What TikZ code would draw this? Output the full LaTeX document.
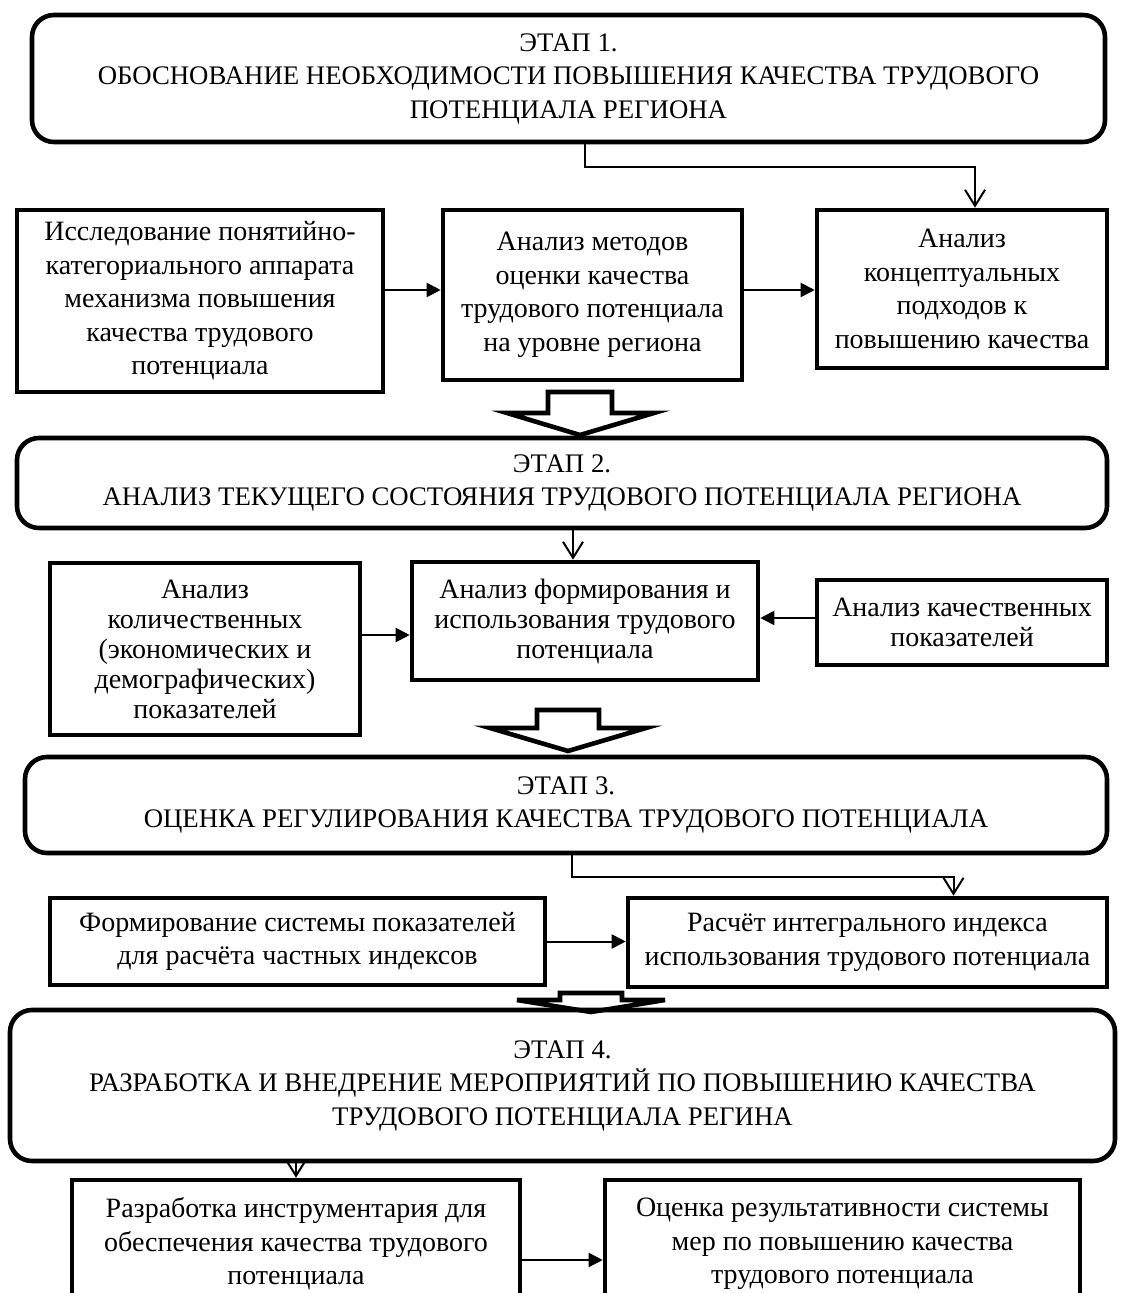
\documentclass[tikz,border=0pt]{standalone}
\usepackage{fontspec}
\setmainfont{Liberation Serif}
\usetikzlibrary{arrows.meta}
\begin{document}
\begin{tikzpicture}
% Stages of raising the quality of the labour potential
\def\px{0.5pt}
\providecommand{\boxLineWidth}{2.3pt}
\providecommand{\linkLineWidth}{1pt}
\providecommand{\stageRadius}{11pt}
\providecommand{\textSize}{\fontsize{14pt}{16.75pt}\selectfont}
\providecommand{\tightSize}{\fontsize{14pt}{15pt}\selectfont}
\providecommand{\stageSize}{\fontsize{13.4pt}{16.75pt}\selectfont}
\begin{scope}[x=\px, y=-\px, line join=miter,
  every node/.style={font=\textSize, align=center, inner sep=0pt},
  stagebox/.style={draw, font=\stageSize, line width=\boxLineWidth, rounded corners=\stageRadius},
  taskbox/.style={draw, line width=\boxLineWidth},
  feed/.style={line width=\linkLineWidth, -{Triangle[length=7pt,width=7pt]}},
  drop/.style={line width=\linkLineWidth, -{Straight Barb[length=8pt,width=10pt]}},
  hollow/.style={draw, line width=\boxLineWidth, fill=white}]
  \useasboundingbox (0,0) rectangle (1122,1293);
  \clip (0,0) rectangle (1122,1293);
  % Stage 1
  \node[stagebox, minimum width=1073*\px, minimum height=127*\px] (stage1) at (568.5,78.5)
    {ЭТАП 1.\\ОБОСНОВАНИЕ НЕОБХОДИМОСТИ ПОВЫШЕНИЯ КАЧЕСТВА ТРУДОВОГО\\ПОТЕНЦИАЛА РЕГИОНА};
  \node[taskbox, minimum width=366*\px, minimum height=182*\px] (concepts) at (200,301)
    {Исследование понятийно-\\категориального аппарата\\механизма повышения\\качества трудового\\потенциала};
  \node[taskbox, minimum width=299*\px, minimum height=170*\px] (methods) at (592.5,295)
    {Анализ методов\\оценки качества\\трудового потенциала\\на уровне региона};
  \node[taskbox, minimum width=290*\px, minimum height=158*\px] (approaches) at (962,289)
    {Анализ\\концептуальных\\подходов к\\повышению качества};
  \draw[drop] ([xshift=8pt]stage1.south) -- ++(0,23) -| ([xshift=6.5pt]approaches.north);
  \draw[feed] ([yshift=5.5pt]concepts.east) -- ([yshift=5.5pt]concepts.east -| methods.west);
  \draw[feed] ([yshift=2.5pt]methods.east) -- ([yshift=2.5pt]methods.east -| approaches.west);
  \draw[hollow] (548,392) -- (548,413) -- (507,413) -- (580,435) -- (654,413) -- (612,413) -- (612,392) -- cycle;
  % Stage 2
  \node[stagebox, minimum width=1090*\px, minimum height=90*\px] (stage2) at (562,483)
    {ЭТАП 2.\\АНАЛИЗ ТЕКУЩЕГО СОСТОЯНИЯ ТРУДОВОГО ПОТЕНЦИАЛА РЕГИОНА};
  \node[taskbox, font=\tightSize, minimum width=310*\px, minimum height=172*\px] (quantity) at (205,649)
    {Анализ\\количественных\\(экономических и\\демографических)\\показателей};
  \node[taskbox, font=\tightSize, minimum width=346*\px, minimum height=118*\px] (usage) at (585,621)
    {Анализ формирования и\\использования трудового\\потенциала};
  \node[taskbox, font=\tightSize, minimum width=290*\px, minimum height=85*\px] (quality) at (962,622.5)
    {Анализ качественных\\показателей};
  \draw[drop] ([xshift=-6pt]usage.north |- stage2.south) -- ([xshift=-6pt]usage.north);
  \draw[feed] ([yshift=7pt]quantity.east) -- ([yshift=7pt]quantity.east -| usage.west);
  \draw[feed] ([yshift=2.25pt]quality.west) -- ([yshift=2.25pt]quality.west -| usage.east);
  \draw[hollow] (537,710) -- (537,728) -- (490,728) -- (568,751) -- (646,728) -- (599,728) -- (599,710) -- cycle;
  % Stage 3
  \node[stagebox, minimum width=1082*\px, minimum height=96*\px] (stage3) at (566,805)
    {ЭТАП 3.\\ОЦЕНКА РЕГУЛИРОВАНИЯ КАЧЕСТВА ТРУДОВОГО ПОТЕНЦИАЛА};
  \node[taskbox, minimum width=495*\px, minimum height=87*\px] (indicators) at (297.5,941.5)
    {Формирование системы показателей\\для расчёта частных индексов};
  \node[taskbox, minimum width=479*\px, minimum height=89*\px] (integral) at (867.5,942.5)
    {Расчёт интегрального индекса\\использования трудового потенциала};
  \draw[drop] ([xshift=3pt]stage3.south) -- ++(0,22) -| ([xshift=43pt]integral.north);
  \draw[feed] (indicators.east) -- (indicators.east -| integral.west);
  \draw[hollow] (560,993) -- (560,1000) -- (517,1000) -- (591,1012) -- (665,1000) -- (622,1000) -- (622,993) -- cycle;
  % Stage 4
  \node[stagebox, minimum width=1105*\px, minimum height=151*\px] (stage4) at (562.5,1085.5)
    {ЭТАП 4.\\РАЗРАБОТКА И ВНЕДРЕНИЕ МЕРОПРИЯТИЙ ПО ПОВЫШЕНИЮ КАЧЕСТВА\\ТРУДОВОГО ПОТЕНЦИАЛА РЕГИНА};
  \node[taskbox, minimum width=448*\px, minimum height=128*\px] (tools) at (296,1244)
    {Разработка инструментария для\\обеспечения качества трудового\\потенциала};
  \node[taskbox, minimum width=475*\px, minimum height=128*\px] (results) at (842.5,1244)
    {Оценка результативности системы\\мер по повышению качества\\трудового потенциала};
  \draw[drop] (stage4.south -| tools.north) -- (tools.north);
  \draw[feed] ([yshift=-8pt]tools.east) -- ([yshift=-8pt]tools.east -| results.west);
\end{scope}
\end{tikzpicture}
\end{document}
